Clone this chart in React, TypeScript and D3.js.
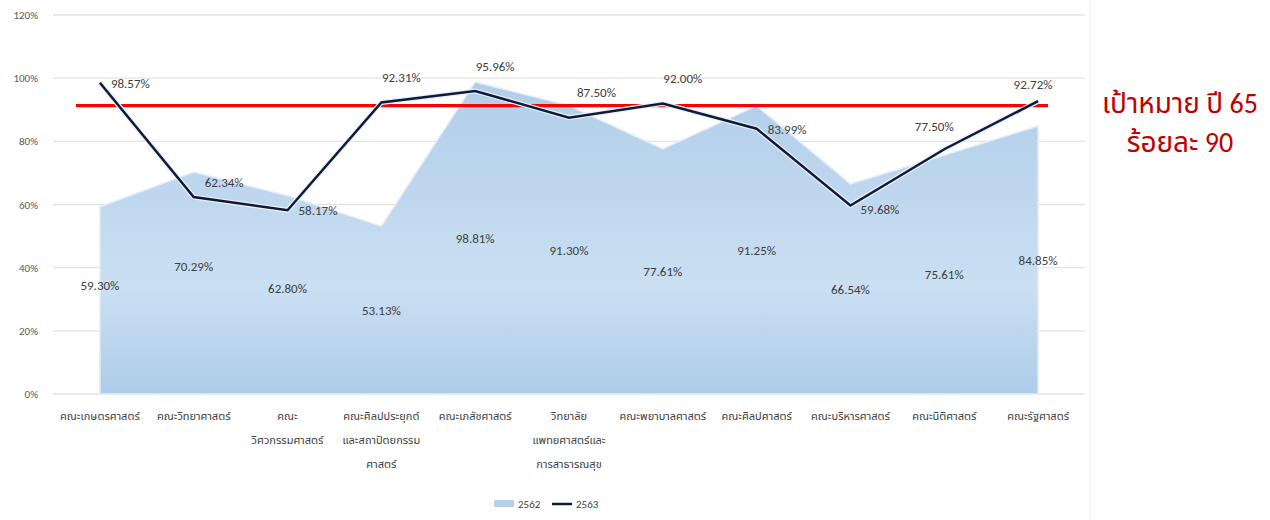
import React from "react";
import * as d3 from "d3";

const categories: string[][] = [
  ["คณะเกษตรศาสตร์"],
  ["คณะวิทยาศาสตร์"],
  ["คณะ", "วิศวกรรมศาสตร์"],
  ["คณะศิลปประยุกต์", "และสถาปัตยกรรม", "ศาสตร์"],
  ["คณะเภสัชศาสตร์"],
  ["วิทยาลัย", "แพทยศาสตร์และ", "การสาธารณสุข"],
  ["คณะพยาบาลศาสตร์"],
  ["คณะศิลปศาสตร์"],
  ["คณะบริหารศาสตร์"],
  ["คณะนิติศาสตร์"],
  ["คณะรัฐศาสตร์"],
];
const values2562 = [59.3, 70.29, 62.8, 53.13, 98.81, 91.3, 77.61, 91.25, 66.54, 75.61, 84.85];
const values2563 = [98.57, 62.34, 58.17, 92.31, 95.96, 87.5, 92.0, 83.99, 59.68, 77.5, 92.72];
// where Excel placed the area labels (in value units)
const areaLabelLevel = [34.5, 40.5, 33.6, 26.6, 49.4, 45.6, 38.9, 45.6, 33.2, 38, 42.4];
const lineLabelPlacement = ["right", "aboveRight", "right", "above", "above", "aboveRightHigh", "above", "right", "rightBelow", "aboveLeft", "aboveCenter"];
const yTicks = [0, 20, 40, 60, 80, 100, 120];
const targetLevel = 91.3;
const seriesNames = ["2562", "2563"];
const targetText = ["เป้าหมาย ปี 65", "ร้อยละ 90"];

const W = 1270, H = 520;
const plotLeft = 53, plotRight = 1085, plotTop = 15, plotBottom = 394;

export default function App() {
  const x = d3.scaleBand<number>().domain(d3.range(categories.length)).range([plotLeft, plotRight]);
  const cx = (i: number) => (x(i) as number) + x.bandwidth() / 2;
  const y = d3.scaleLinear().domain([0, 120]).range([plotBottom, plotTop]);

  const area = d3.area<number>().x((_, i) => cx(i)).y0(y(0)).y1((d) => y(d));
  const line = d3.line<number>().x((_, i) => cx(i)).y((d) => y(d));
  const font = "Calibri, Carlito, 'Open Sans', 'Noto Sans', 'Noto Sans Thai', sans-serif";
  const fmt = (v: number) => v.toFixed(2) + "%";

  const lineLabelPos = (i: number) => {
    const px = cx(i), py = y(values2563[i]);
    switch (lineLabelPlacement[i]) {
      case "right": return { x: px + 11, y: py + 5, anchor: "start" };
      case "rightBelow": return { x: px + 10, y: py + 8, anchor: "start" };
      case "aboveRight": return { x: px + 11, y: py - 10, anchor: "start" };
      case "aboveRightHigh": return { x: px + 8, y: py - 21, anchor: "start" };
      case "aboveLeft": return { x: px - 10, y: py - 18, anchor: "middle" };
      case "aboveCenter": return { x: px - 5, y: py - 12, anchor: "middle" };
      default: return { x: px + 20, y: py - 20, anchor: "middle" };
    }
  };

  return (
    <div style={{ position: "absolute", left: 0, top: 0 }}>
      <svg width={W} height={H} style={{ display: "block", background: "#fff" }}>
        <defs>
          <linearGradient id="areaGrad" gradientUnits="userSpaceOnUse" x1="0" y1={plotTop} x2="0" y2={plotBottom}>
            <stop offset="0" stopColor="#a9c8e6" />
            <stop offset="0.72" stopColor="#cadff2" />
            <stop offset="1" stopColor="#aecce9" />
          </linearGradient>
        </defs>
        <line x1={1090} x2={1090} y1={0} y2={H} stroke="#ececec" />
        {yTicks.map((t) => (
          <g key={t}>
            <line x1={plotLeft} x2={plotRight} y1={y(t)} y2={y(t)} stroke="#e3e3e3" strokeWidth={1.3} />
            <text x={38} y={y(t) + 4} textAnchor="end" fontSize={11} fill="#595959" fontFamily={font}>{t}%</text>
          </g>
        ))}
        <path d={area(values2562) as string} fill="url(#areaGrad)" stroke="#e4eef8" strokeWidth={1.5} />
        <line x1={76} x2={1048} y1={y(targetLevel)} y2={y(targetLevel)} stroke="#ff0000" strokeWidth={3.2} />
        <path d={line(values2563) as string} fill="none" stroke="#e8f0f8" strokeWidth={5} strokeLinejoin="round" />
        <path d={line(values2563) as string} fill="none" stroke="#0f1a3a" strokeWidth={2.5} strokeLinejoin="miter" />
        {values2562.map((v, i) => (
          <text key={i} x={cx(i)} y={y(areaLabelLevel[i]) + 5} textAnchor="middle" fontSize={13} fill="#404040" fontFamily={font}>{fmt(v)}</text>
        ))}
        {values2563.map((v, i) => {
          const p = lineLabelPos(i);
          return (
            <text key={i} x={p.x} y={p.y} textAnchor={p.anchor as any} fontSize={13} fill="#404040" fontFamily={font}>{fmt(v)}</text>
          );
        })}
        {categories.map((lines, i) => (
          <text key={i} textAnchor="middle" fontSize={11} fill="#404040" fontFamily={font}>
            {lines.map((l, j) => (
              <tspan key={j} x={cx(i)} y={420 + j * 24}>{l}</tspan>
            ))}
          </text>
        ))}
        <g fontFamily={font} fontSize={11} fill="#404040">
          <rect x={494} y={500} width={20} height={7} fill="#b4d0ea" />
          <text x={518} y={508}>{seriesNames[0]}</text>
          <line x1={552} x2={572} y1={504} y2={504} stroke="#0f1a3a" strokeWidth={2.5} />
          <text x={576} y={508}>{seriesNames[1]}</text>
        </g>
        {targetText.map((t, j) => (
          <text key={j} x={1180} y={113 + j * 39} textAnchor="middle" fontSize={28} fill="#c00000" fontFamily={font}>{t}</text>
        ))}
      </svg>
    </div>
  );
}
